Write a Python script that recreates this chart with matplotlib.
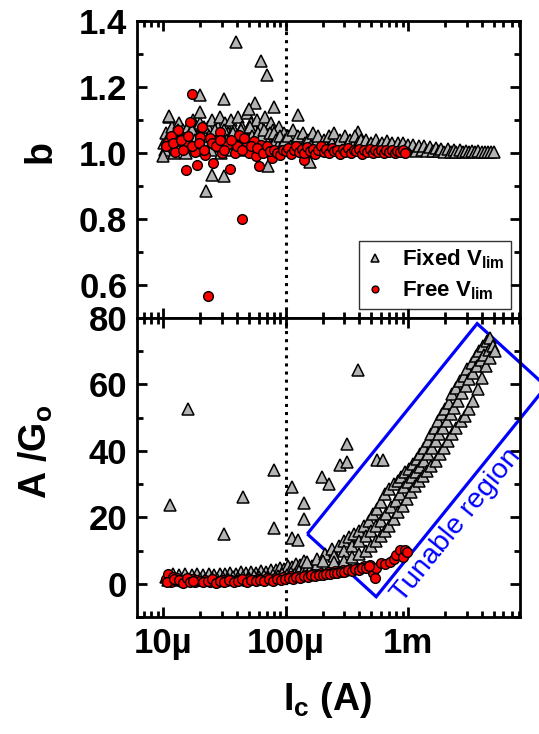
import numpy as np
import matplotlib.pyplot as plt
from matplotlib.patches import Polygon

plt.rcParams['font.family'] = ['Liberation Sans', 'DejaVu Sans']
plt.rcParams['font.weight'] = 'bold'
plt.rcParams['mathtext.fontset'] = 'custom'
plt.rcParams['mathtext.rm'] = 'Liberation Sans:bold'
plt.rcParams['mathtext.it'] = 'Liberation Sans:bold'
plt.rcParams['mathtext.bf'] = 'Liberation Sans:bold'

# Ic in microampere
# --- top panel: b, fixed V_lim (triangles)
ic_fixed_b = [10.2, 10.5, 10.8, 11.0, 11.2, 11.5, 11.8, 12.0, 12.5, 13.0,
              13.5, 14.0, 14.5, 15.0, 15.5, 16.0, 16.5, 17.0, 17.5, 18.0,
              18.5, 19.0, 20.0, 21.0, 22.0, 23.0, 24.0, 25.0, 26.0, 27.0,
              28.0, 29.0, 30.0, 31.0, 32.0, 34.0, 35.0, 36.0, 38.0, 40.0,
              41.0, 42.0, 44.0, 46.0, 48.0, 50.0, 52.0, 54.0, 56.0, 58.0,
              60.0, 63.0, 66.0, 68.0, 70.0, 73.0, 76.0, 79.0, 82.0, 85.0,
              88.0, 92.0, 96.0, 100,
              10.4, 11.4, 12.2, 13.2, 14.2, 15.2, 16.2, 17.2, 18.2, 19.5,
              20.5, 21.5, 22.5, 23.5, 24.5, 25.5, 26.5, 27.5, 28.5, 29.5,
              31.5, 33, 35.5, 37, 39, 43, 45, 47, 49, 51,
              53, 55, 57, 59, 61, 64, 67, 71, 74, 77,
              80, 83, 87, 90, 94, 98,
              39.4, 62.8, 70.3, 20.0, 31.6, 11.2, 20.0, 56.3, 79.5, 127,
              49.7, 393, 22.4, 24.9, 31.5, 10.0, 71.6, 158,
              105, 110, 115, 120, 126, 132, 138, 145, 152, 160,
              168, 176, 185, 195, 205, 215, 226, 238, 250, 262,
              275, 290, 305, 320, 336, 353, 370, 390, 410, 430,
              452, 475, 500, 525, 550, 580, 610, 640, 670, 705,
              740, 780, 820, 860, 900, 950, 1000,
              1050, 1100, 1160, 1220, 1290, 1360, 1430, 1510, 1590, 1680,
              1770, 1870, 1980, 2100, 2220, 2350, 2480, 2630, 2790, 2960,
              3140, 3330, 3530, 3750, 3980, 4220, 4480, 4750, 5050]
b_fixed = [1.03, 1.06, 1.04, 1.02, 1.11, 1.05, 1.08, 1.03, 1.06, 1.04,
           1.09, 1.02, 1.07, 1.05, 1.03, 1.08, 1.06, 1.04, 1.10, 1.02,
           1.07, 1.05, 1.09, 1.03, 1.06, 1.08, 1.04, 1.10, 1.06, 1.02,
           1.08, 1.11, 1.05, 1.03, 1.09, 1.06, 1.04, 1.10, 1.07, 1.02,
           1.11, 1.05, 1.08, 1.04, 1.12, 1.06, 1.09, 1.03, 1.07, 1.10,
           1.05, 1.08, 1.02, 1.11, 1.06, 1.04, 1.09, 1.07, 1.03, 1.05,
           1.08, 1.04, 1.06, 1.03,
           1.01, 1.04, 1.00, 1.07, 1.04, 1.00, 1.03, 1.07, 1.04, 1.01,
           1.05, 1.08, 1.02, 1.05, 1.01, 1.04, 1.07, 1.03, 1.05, 1.00,
           1.07, 1.04, 1.01, 1.06, 1.03, 1.07, 1.01, 1.05, 1.03, 1.08,
           1.05, 1.01, 1.04, 1.06, 1.02, 1.05, 1.07, 1.03, 1.06, 1.02,
           1.06, 1.04, 1.02, 1.05, 1.02, 1.04,
           1.336, 1.279, 1.236, 1.176, 1.164, 1.113, 1.125, 1.151, 1.138, 1.116,
           1.133, 1.063, 0.886, 0.934, 0.931, 0.992, 0.962, 0.973,
           1.05, 1.02, 1.07, 1.03, 1.05, 1.01, 1.06, 1.03, 1.04, 1.02,
           1.06, 1.03, 1.05, 1.01, 1.04, 1.02, 1.05, 1.03, 1.06, 1.02,
           1.04, 1.01, 1.05, 1.03, 1.04, 1.02, 1.05, 1.03, 1.04, 1.01,
           1.04, 1.02, 1.03, 1.01, 1.04, 1.02, 1.03, 1.01, 1.035, 1.02,
           1.03, 1.01, 1.03, 1.015, 1.03, 1.01, 1.025,
           1.01, 1.025, 1.005, 1.02, 1.008, 1.02, 1.005, 1.018, 1.006, 1.015,
           1.005, 1.013, 1.004, 1.012, 1.004, 1.01, 1.003, 1.008, 1.003, 1.007,
           1.003, 1.006, 1.003, 1.005, 1.003, 1.004, 1.002, 1.003, 1.002]

# --- top panel: b, free V_lim (circles)
ic_free_b = [17.3, 23.0, 43.8, 15.2, 19.0, 25.4, 34.8, 60.0, 141, 960,
             16.6, 13.2, 20.8, 28.8, 41.2, 10.9, 12.5, 15.8, 20.0, 23.9,
             18.2, 22.0, 30.0, 33.1, 38.2, 40.0, 48.0, 55.3, 49.7, 57.3,
             62.7, 76.8,
             10.5, 11.5, 12.0, 14.0, 14.5, 16.0, 17.0, 19.5, 21.5, 25.0,
             27.0, 29.0, 31.5, 36.0, 44.0, 46.0, 52.0, 58.0, 65.0, 70.0,
             74.0, 80.0, 85.0, 90.0, 95.0,
             100, 105, 110, 116, 122, 128, 135, 142, 150, 158,
             166, 175, 184, 194, 204, 215, 226, 238, 250, 263,
             277, 292, 307, 323, 340, 358, 377, 397, 418, 440,
             463, 487, 513, 540, 568, 598, 630, 663, 698, 735,
             774, 815, 858, 903, 950]
b_free = [1.178, 0.568, 0.80, 0.947, 0.965, 0.969, 0.952, 0.962, 0.98, 1.002,
          1.093, 1.07, 1.08, 1.063, 1.056, 1.034, 1.004, 1.026, 1.047, 1.044,
          1.004, 0.994, 1.0, 1.025, 1.0, 1.02, 1.03, 1.035, 1.0, 0.992,
          1.025, 0.986,
          1.02, 1.05, 1.03, 1.04, 1.01, 1.05, 1.02, 1.03, 1.01, 1.03,
          1.02, 1.04, 1.01, 1.04, 1.01, 1.045, 1.02, 1.015, 1.0, 1.02,
          1.005, 1.01, 1.0, 0.995, 1.01,
          1.005, 1.015, 0.998, 1.01, 1.02, 1.003, 1.012, 1.0, 1.018, 1.005,
          1.012, 0.998, 1.01, 1.02, 1.004, 1.012, 1.0, 1.015, 1.005, 1.01,
          0.998, 1.012, 1.003, 1.015, 1.0, 1.01, 1.005, 1.012, 0.998, 1.008,
          1.002, 1.012, 1.0, 1.008, 1.003, 1.01, 1.0, 1.008, 1.002, 1.01,
          1.0, 1.006, 1.002, 1.008, 1.0]

# --- bottom panel: A/Go, fixed V_lim
ic_fixed_a = [10.5, 12, 13.5, 15, 17, 19, 21, 23.5, 26, 29,
              32, 35, 39, 43, 47, 52, 57, 63, 69, 76,
              83, 90, 97, 105, 113, 122, 132, 142,
              11, 12.5, 14, 16, 18, 20, 22, 25, 27.5, 31,
              34, 37, 41, 45, 50, 55, 60, 66, 72, 79,
              86, 94, 102, 110, 118, 128, 138, 150, 165, 180,
              150, 180, 210, 240, 270, 300, 330, 360, 400, 440,
              480, 520, 560, 600, 650, 700, 760, 820, 880, 950,
              1020, 1100, 1180, 1260, 1350, 1440, 1540, 1650, 1760, 1880,
              2000, 2150, 2300, 2450, 2650, 2850, 3050, 3300, 3550, 3800,
              4100, 4400, 4700,
              200, 250, 300, 350, 400, 450, 500, 550, 600, 660,
              720, 790, 860, 930, 1000, 1080, 1160, 1250, 1350, 1450,
              1560, 1680, 1800, 1930, 2070, 2220, 2380, 2550, 2750, 2950,
              3150, 3400, 3650, 3900, 4200, 4550, 4900,
              250, 300, 350, 400, 450, 500, 550, 600, 650, 700,
              760, 830, 900, 970, 1050, 1130, 1220, 1320, 1430, 1550,
              1680, 1820, 1970, 2130, 2300, 2480, 2680, 2900, 3150, 3400,
              3700, 4000, 4350, 4700, 5100,
              393, 15.9, 11.3, 31.6, 44.7, 79.7, 79.7, 112, 112, 127,
              140, 140, 198, 224, 278, 316, 316, 557, 628]
a_fixed = [2.0, 2.8, 2.5, 2.9, 2.6, 2.9, 2.6, 3.0, 2.7, 3.0,
           2.8, 3.3, 3.0, 3.4, 3.1, 3.5, 3.3, 3.7, 3.5, 4.2,
           4.0, 4.8, 4.5, 5.5, 5.0, 6.0, 5.8, 6.8,
           1.0, 1.3, 1.0, 1.4, 1.1, 1.5, 1.2, 1.6, 1.3, 1.7,
           1.4, 1.9, 1.6, 2.0, 1.7, 2.2, 1.9, 2.4, 2.1, 2.6,
           2.4, 2.9, 2.7, 3.3, 3.0, 3.8, 3.6, 4.5, 5.5, 6.0,
           6.5, 7.5, 9, 10.5, 11.5, 13, 14, 15, 16, 17.5,
           19, 21, 22.5, 24.5, 27, 28.5, 30, 31, 32, 33.5,
           34.5, 36, 37.5, 39, 41, 43, 45, 47, 49, 51,
           52.5, 54.5, 57, 59, 61, 62.5, 64.5, 66.5, 68.5, 70,
           71.5, 73, 74,
           7, 8.5, 10, 11.5, 13, 14.5, 16, 17.5, 19, 21,
           23, 25, 27, 29, 30.5, 32, 33.5, 35, 37, 39,
           41, 43, 45, 47, 49, 51, 53, 55, 57.5, 59.5,
           61.5, 63.5, 65.5, 67.5, 69, 70.5, 71.5,
           6.5, 7, 8, 9, 10, 11.5, 13, 14.5, 16, 17.5,
           19.5, 21.5, 23.5, 25.5, 27.5, 29.5, 31, 32.5, 34, 35.5,
           37, 39, 41, 43, 45, 47, 49, 50.5, 52.5, 55,
           58.5, 62, 65.5, 68, 70,
           64.4, 52.5, 23.7, 14.9, 26.2, 34.2, 16.7, 29.2, 13.7, 13.2,
           24.4, 19.4, 32.2, 30.0, 35.7, 42.2, 36.7, 37.2, 37.2]

# --- bottom panel: A/Go, free V_lim
ic_free_a = [10.5, 11, 11.5, 12, 12.5, 13, 14, 15, 16, 17,
             18, 19, 20, 22, 24, 26, 28, 30, 33, 36,
             39, 42, 46, 50, 55, 60, 65, 70, 76, 82,
             88, 95, 102, 110, 118, 127, 136, 146, 157, 168,
             180, 193, 207, 222, 238, 255, 273, 292, 312, 334,
             357, 382, 408, 436, 466, 490, 520, 540, 550, 600,
             650, 710, 760, 800, 860, 910, 940, 980,
             10.8, 12.2, 13.5, 14.5, 15.5, 16.5, 17.5, 21, 23, 25,
             27, 29, 31.5, 34.5, 37.5, 40.5, 44, 48, 52, 57,
             62, 67, 73, 79, 85, 91, 98, 106, 114, 122,
             131, 141, 151, 162, 174, 186, 200, 215, 230, 246,
             264, 282, 302, 323, 345, 370, 395, 422, 450, 480]
a_free = [1.5, 2.8, 0.5, 2.0, 1.0, 1.8, 0.6, 1.2, 0.8, 1.5,
          0.5, 1.0, 0.7, 1.2, 0.6, 1.0, 0.5, 1.1, 0.8, 1.2,
          0.7, 1.3, 0.9, 1.4, 1.0, 1.5, 1.1, 1.6, 1.2, 1.8,
          1.4, 2.0, 1.6, 2.2, 1.9, 2.4, 2.1, 2.6, 2.4, 2.9,
          2.6, 3.1, 2.9, 3.4, 3.2, 3.7, 3.5, 4.0, 3.8, 4.3,
          4.2, 4.7, 4.6, 5.2, 5.1, 5.7, 3.2, 1.7, 4.7, 6.2,
          6.0, 6.7, 7.5, 8.7, 10.2, 8.2, 10.2, 9.5,
          0.4, 1.4, 1.0, 0.3, 1.6, 0.4, 0.9, 0.4, 0.9, 1.3,
          0.3, 0.8, 0.5, 1.0, 0.4, 0.9, 1.4, 0.6, 1.0, 0.7,
          1.1, 0.8, 1.3, 0.9, 1.5, 1.1, 1.4, 1.8, 1.5, 2.0,
          1.8, 2.2, 2.0, 2.5, 2.3, 2.7, 2.5, 3.0, 2.8, 3.3,
          3.1, 3.6, 3.5, 4.0, 3.8, 4.4, 4.2, 4.8, 4.7, 5.3]

xticks = [10, 100, 1000]
xticklabels = ['10µ', '100µ', '1m']

fig = plt.figure(figsize=(5.39, 7.34), dpi=100)
ax1 = fig.add_axes([0.2542, 0.5668, 0.7106, 0.4046])
ax2 = fig.add_axes([0.2542, 0.1594, 0.7106, 0.4074])

tri = dict(ls='none', marker='^', ms=9, mfc='#b4b4b4', mec='k', mew=1.1)
dot = dict(ls='none', marker='o', ms=7, mfc='#ff0000', mec='k', mew=1.0)

ax1.plot(ic_fixed_b, b_fixed, label='Fixed V$_{lim}$', **tri)
ax1.plot(ic_free_b, b_free, label='Free V$_{lim}$', **dot)
ax2.plot(ic_fixed_a, a_fixed, **tri)
ax2.plot(ic_free_a, a_free, **dot)

for ax in (ax1, ax2):
    ax.set_xscale('log')
    ax.set_xlim(6.1, 8200)
    ax.axvline(100, color='k', ls=':', lw=2.2, zorder=0)
    ax.set_xticks(xticks)
    ax.tick_params(which='both', direction='in', top=True, right=True,
                   width=2, labelsize=25, pad=7)
    ax.tick_params(which='major', length=7)
    ax.tick_params(which='minor', length=4)
    for s in ax.spines.values():
        s.set_linewidth(2)

ax1.set_ylim(0.5, 1.4)
ax1.set_yticks([0.6, 0.8, 1.0, 1.2, 1.4])
ax1.set_yticks(np.arange(0.5, 1.41, 0.1), minor=True)
ax1.set_yticklabels(['0.6', '0.8', '1.0', '1.2', '1.4'])
ax1.set_xticklabels([])

ax2.set_ylim(-10, 80)
ax2.set_yticks([0, 20, 40, 60, 80])
ax2.set_yticks(np.arange(-10, 81, 10), minor=True)
ax2.set_xticklabels(xticklabels)

leg = ax1.legend(loc='lower right', fontsize=16, frameon=True, fancybox=False,
                 edgecolor='k', handlelength=0.8, handletextpad=0.8,
                 borderpad=0.3, labelspacing=0.4, markerscale=0.7,
                 borderaxespad=0.4)
leg.get_frame().set_linewidth(1)

# tunable region box
box_x = [150, 3660, 13400, 548]
box_y = [15.0, 78.3, 59.4, -3.9]
ax2.add_patch(Polygon(np.column_stack([box_x, box_y]), closed=True, fill=False,
                      edgecolor='#0000ff', lw=2.3, clip_on=False))
ax2.text(2500, 17.5, 'Tunable region', color='#0000ff', fontsize=20.5,
         fontweight='normal', rotation=51, ha='center', va='center',
         rotation_mode='anchor')

fig.text(41 / 539, 1 - 152 / 734, 'b', rotation=90, fontsize=27,
         ha='center', va='center')
fig.text(36 / 539, 1 - 452 / 734, 'A /G$_o$', rotation=90, fontsize=27,
         ha='center', va='center')
fig.text(328 / 539, 1 - 700 / 734, 'I$_c$ (A)', fontsize=27,
         ha='center', va='center')

fig.savefig('out.png', dpi=100)
